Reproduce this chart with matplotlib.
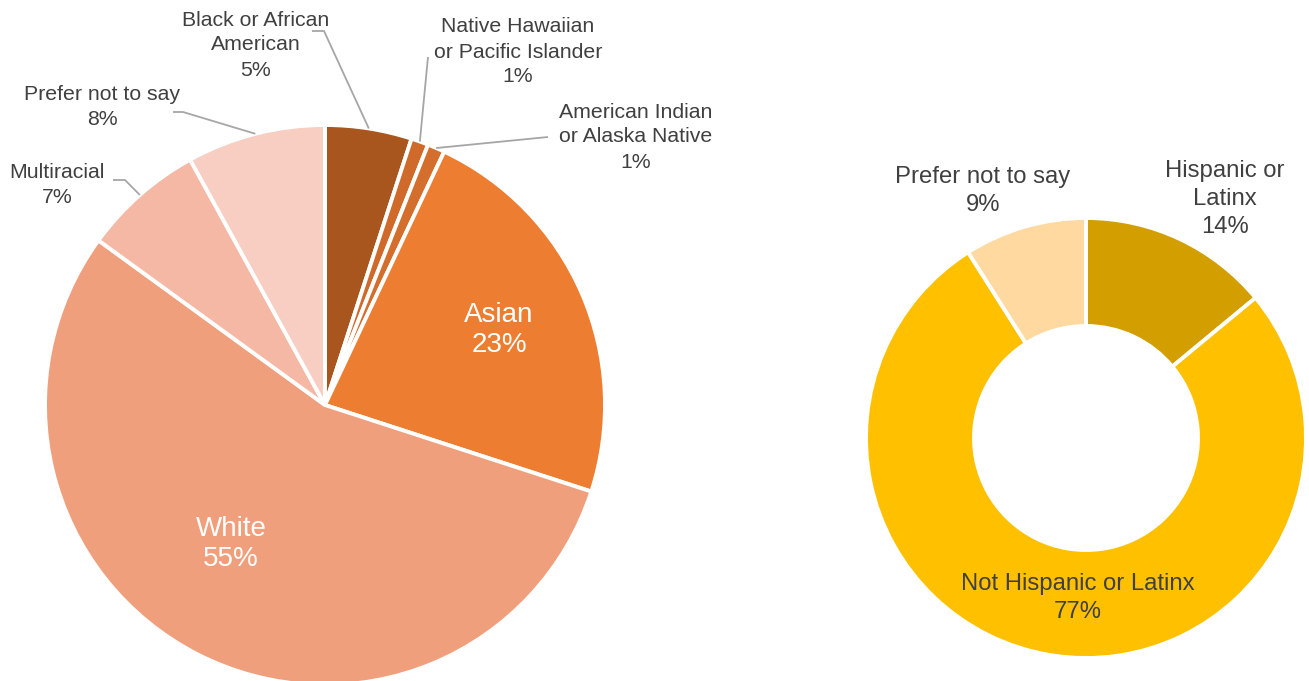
import numpy as np
import matplotlib
matplotlib.use("Agg")
import matplotlib.pyplot as plt

plt.rcParams['font.family'] = ['Liberation Sans', 'DejaVu Sans']

W, H = 1309, 681
TEXT_COL = '#404040'
LINE_COL = '#a6a6a6'

#race data (clockwise from top)
race_labels = ['Black or African\nAmerican', 'Native Hawaiian\nor Pacific Islander',
               'American Indian\nor Alaska Native', 'Asian', 'White',
               'Multiracial', 'Prefer not to say']
race_values = [5, 1, 1, 23, 55, 7, 8]
race_colors = ['#a9561e', '#cf6a2a', '#d46e2c', '#ed7d31', '#f09f7c',
               '#f4b8a4', '#f8cdc2']

#ethnicity data (clockwise from top)
eth_labels = ['Hispanic or\nLatinx', 'Not Hispanic or Latinx', 'Prefer not to say']
eth_values = [14, 77, 9]
eth_colors = ['#d29e00', '#ffc000', '#ffd9a0']


def up(y):
    #pixel coords from the top -> axes coords
    return H - y


fig = plt.figure(figsize=(W / 100, H / 100), dpi=100)
ax = fig.add_axes([0, 0, 1, 1])

#LEFT PIE
pie_c = (325, up(405))
pie_r = 280
wedges, _ = ax.pie(race_values, colors=race_colors, startangle=90,
                   counterclock=False, center=pie_c, radius=pie_r,
                   wedgeprops=dict(edgecolor='white', linewidth=2.8))

#label layout: (x, y from top, fontsize, colour, linespacing, leader path from label side)
race_layout = [
    (256, 45, 15.3, TEXT_COL, 1.4, [(312, 31), (324, 31)]),
    (518, 52, 15.3, TEXT_COL, 1.4, [(428, 57)]),
    (636, 137, 15.3, TEXT_COL, 1.4, [(548, 137)]),
    (499, 330, 20, 'white', 1.25, None),
    (231, 544, 20, 'white', 1.25, None),
    (57, 185, 15.3, TEXT_COL, 1.4, [(113, 180), (125, 180)]),
    (102, 107, 15.3, TEXT_COL, 1.4, [(173, 112), (183, 112)]),
]

for w, lab, val, lay in zip(wedges, race_labels, race_values, race_layout):
    x, y, fs, col, ls, path = lay
    ax.text(x, up(y), f'{lab}\n{val}%', ha='center', va='center',
            fontsize=fs, color=col, linespacing=ls)
    if path:
        mid = np.deg2rad((w.theta1 + w.theta2) / 2)
        sx = pie_c[0] + pie_r * np.cos(mid)
        sy = pie_c[1] + pie_r * np.sin(mid)
        xs = [p[0] for p in path] + [sx]
        ys = [up(p[1]) for p in path] + [sy]
        ax.plot(xs, ys, color=LINE_COL, lw=1.3, solid_capstyle='butt')

#RIGHT DONUT
don_c = (1086, up(438))
don_r = 220
ax.pie(eth_values, colors=eth_colors, startangle=90, counterclock=False,
       center=don_c, radius=don_r,
       wedgeprops=dict(width=108, edgecolor='white', linewidth=2.8))

eth_layout = [(1225, 199), (1078, 598), (983, 191)]
for lab, val, (x, y) in zip(eth_labels, eth_values, eth_layout):
    ax.text(x, up(y), f'{lab}\n{val}%', ha='center', va='center',
            fontsize=17.2, color=TEXT_COL, linespacing=1.35)

ax.set_xlim(0, W)
ax.set_ylim(0, H)
ax.set_aspect('equal')
ax.axis('off')

fig.savefig('out.png', dpi=100, facecolor='white')
